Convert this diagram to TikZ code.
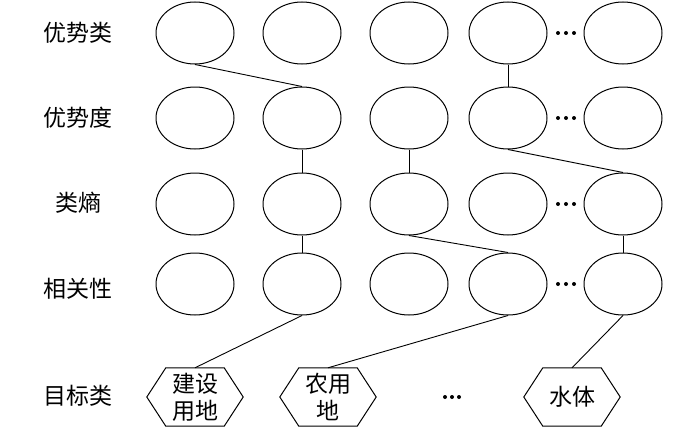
\documentclass[tikz,border=0pt]{standalone}
\usepackage{fontspec}
\newfontfamily\cjk{Noto Sans CJK SC}
\usetikzlibrary{shapes.geometric}
\begin{document}
\begin{tikzpicture}[x=1pt,y=-1pt,
  ell/.style={draw,ellipse,line width=1pt,minimum width=78pt,minimum height=62pt,inner sep=0pt},
  lab/.style={font=\cjk\fontsize{23}{27}\selectfont,inner sep=0pt},
  hexbox/.style={minimum width=96pt,minimum height=58pt,inner sep=0pt,align=center,font=\cjk\fontsize{23}{27}\selectfont},
  hexline/.style={line width=1pt,line join=miter},
  conn/.style={line width=0.9pt},
  dot/.style={fill=black}]
\useasboundingbox (0,0) rectangle (700,428);
% row labels
\node[lab] (l1) at (78,33) {优势类};
\node[lab] (l2) at (78,118) {优势度};
\node[lab] (l3) at (78,203) {类熵};
\node[lab] (l4) at (78,289) {相关性};
\node[lab] (l5) at (78,396) {目标类};
% ellipses
\foreach \r/\y in {1/33,2/118,3/204,4/284}{
  \foreach \c/\x in {1/195,2/302,3/409,4/508,5/623}{
    \node[ell] (e\r\c) at (\x,\y) {};
  }
  \fill (558,\y) circle (2pt) (566,\y) circle (2pt) (574,\y) circle (2pt);
}
% hexagons
\node[hexbox] (h1) at (195,397) {建设\\用地};
\node[hexbox] (h2) at (328,397) {农用\\地};
\node[hexbox] (h3) at (572,397) {水体};
\foreach \h in {h1,h2,h3}{
  \draw[hexline] (\h.west) -- ([xshift=19pt]\h.north west) -- ([xshift=-19pt]\h.north east)
    -- (\h.east) -- ([xshift=-19pt]\h.south east) -- ([xshift=19pt]\h.south west) -- cycle;
}
\fill (445,397) circle (2pt) (452,397) circle (2pt) (459,397) circle (2pt);
% connectors
\draw[conn] (e11.south) -- (e22.north);
\draw[conn] (e14.south) -- (e24.north);
\draw[conn] (e22.south) -- (e32.north);
\draw[conn] (e23.south) -- (e33.north);
\draw[conn] (e24.south) -- (e35.north);
\draw[conn] (e32.south) -- (e42.north);
\draw[conn] (e33.south) -- (e44.north);
\draw[conn] (e35.south) -- (e45.north);
\draw[conn] (e42.south) -- (h1.north);
\draw[conn] (e44.south) -- (h2.north);
\draw[conn] (e45.south) -- (h3.north);
\end{tikzpicture}
\end{document}
